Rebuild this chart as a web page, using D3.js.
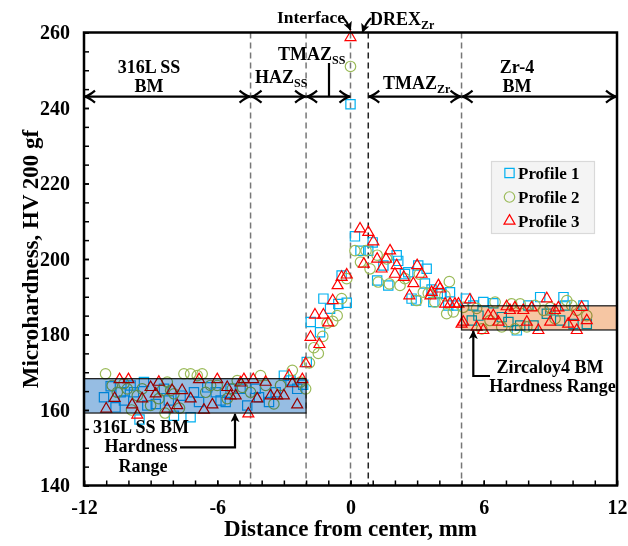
<!DOCTYPE html>
<html><head><meta charset="utf-8">
<script src="https://cdn.jsdelivr.net/npm/d3@7"></script>
<style>
body{margin:0;background:#fff}
svg text{font-family:"Liberation Serif","Times New Roman",serif;font-weight:bold;fill:#000}
</style>
</head><body>
<svg id="c" width="628" height="546"></svg>
<script>
// ---- data (distance mm, hardness HV) ----
const profile1 = [
[-11.1,163.4],[-10.8,166.3],[-10.58,160.7],[-10.35,164.7],[-10.2,162.5],[-9.9,166.5],[-9.75,164.7],[-9.5,157.5],[-9.3,167.4],[-9.15,161.2],
[-8.77,161.6],[-8.4,165.6],[-8.18,162.5],[-7.95,158.5],[-7.65,163.8],[-7.2,158.1],[-7.05,164.7],[-6.82,162.1],[-6.45,166.0],[-6.07,164.7],
[-5.85,162.5],[-5.62,162.1],[-5.4,165.6],[-4.95,165.6],[-4.65,161.2],[-4.27,165.6],[-4.12,163.4],[-3.67,162.1],[-3.37,164.7],[-3.0,169.1],
[-2.7,167.8],[-2.4,165.6],[-2.13,166.7],[-1.97,172.7],[-1.79,183.3],[-1.37,180.6],[-1.22,189.5],[-0.92,186.8],[-0.55,188.1],[-0.4,195.6],
[-0.17,188.4],[0.0,241.0],[0.2,206.0],[0.45,202.2],[0.8,202.2],[1.0,204.4],[1.2,194.3],[1.48,198.3],[1.7,193.0],[2.08,201.0],
[2.15,199.5],[2.45,196.0],[2.6,196.5],[2.75,189.5],[2.95,189.0],[3.05,198.3],[3.35,193.5],[3.43,197.4],[3.65,191.9],[3.73,188.6],
[3.93,191.0],[4.1,190.8],[4.4,187.7],[4.48,191.2],[4.75,187.7],[5.2,189.5],[5.46,183.7],[5.53,187.7],[5.76,185.0],[5.98,188.6],
[6.43,188.3],[6.81,184.6],[7.11,183.3],[7.49,181.1],[7.64,182.4],[8.01,187.7],[8.24,182.4],[8.54,189.9],[8.84,185.5],[9.0,186.4],
[9.44,183.7],[9.59,189.9],[9.67,187.7],[10.04,182.8],[10.49,187.7],[10.64,182.8]
];
const profile2 = [
[-11.03,169.6],[-10.73,166.5],[-10.5,164.7],[-10.2,167.0],[-10.05,165.6],[-9.86,160.0],[-9.6,163.8],[-9.38,165.6],[-9.0,161.2],[-8.63,163.0],
[-8.48,165.2],[-8.35,159.2],[-8.25,167.4],[-8.1,165.2],[-7.95,164.3],[-7.7,160.5],[-7.5,169.6],[-7.2,169.6],[-6.9,169.1],[-6.68,169.6],
[-6.52,164.7],[-6.3,166.5],[-6.0,166.5],[-5.55,163.0],[-5.32,165.6],[-5.1,167.8],[-4.87,166.0],[-4.5,164.7],[-4.05,169.1],[-3.82,166.5],
[-3.45,161.6],[-3.15,166.5],[-2.62,170.5],[-2.25,167.4],[-2.02,165.6],[-1.85,172.5],[-1.65,176.5],[-1.45,175.0],[-1.25,179.5],[-1.05,183.0],
[-0.8,183.5],[-0.6,185.0],[-0.4,189.5],[-0.17,194.8],[0.0,251.0],[0.2,202.2],[0.45,199.2],[0.7,202.2],[0.88,197.4],[1.2,201.0],
[1.25,193.9],[1.63,200.0],[1.75,193.4],[2.23,193.0],[2.45,194.8],[2.98,189.0],[3.1,196.0],[3.28,191.2],[3.5,190.9],[3.8,188.6],
[4.25,190.3],[4.33,185.5],[4.45,194.0],[4.63,186.0],[5.08,187.2],[5.68,186.9],[5.91,181.5],[6.28,183.7],[6.51,188.6],[6.81,182.0],
[7.26,188.1],[7.41,181.5],[7.64,188.1],[7.94,182.0],[8.31,187.7],[8.69,186.4],[8.99,187.1],[9.21,184.2],[9.74,189.0],[9.96,187.7],
[10.19,186.4],[10.64,185.0]
];
const profile3 = [
[-11.0,160.3],[-10.62,163.1],[-10.4,168.1],[-10.0,168.1],[-9.83,161.4],[-9.6,158.7],[-9.38,163.0],[-9.0,166.0],[-8.77,164.3],[-8.63,167.4],
[-8.25,160.3],[-8.03,165.2],[-7.8,161.2],[-7.58,165.2],[-7.2,163.0],[-6.82,168.1],[-6.6,160.0],[-6.22,161.4],[-6.0,168.1],[-5.55,166.0],
[-5.4,163.8],[-5.17,163.8],[-4.95,167.2],[-4.8,168.1],[-4.6,159.0],[-4.38,168.1],[-4.2,163.0],[-3.82,167.4],[-3.6,163.8],[-3.3,163.8],
[-3.0,163.8],[-2.77,169.1],[-2.62,167.0],[-2.4,161.4],[-2.17,168.1],[-2.02,172.3],[-1.8,179.3],[-1.6,185.2],[-1.4,177.4],[-1.22,185.2],
[-1.0,183.1],[-0.8,189.0],[-0.58,193.0],[-0.4,195.2],[-0.17,195.8],[0.0,258.7],[0.43,208.0],[0.6,198.7],[0.8,207.1],[1.03,204.6],
[1.2,200.0],[1.4,197.4],[1.6,200.0],[1.78,202.2],[2.0,196.0],[2.08,198.3],[2.4,195.2],[2.65,190.3],[2.83,193.5],[3.0,198.3],
[3.2,196.0],[3.6,190.3],[3.65,191.2],[3.96,193.0],[4.03,192.1],[4.26,188.1],[4.48,188.1],[4.7,188.1],[4.86,188.1],[5.0,182.8],
[5.08,183.3],[5.38,189.2],[5.68,182.0],[5.98,181.1],[6.2,185.0],[6.43,185.0],[6.66,183.3],[7.03,187.4],[7.18,186.4],[7.4,187.1],
[7.78,186.4],[7.94,183.3],[8.16,187.1],[8.46,181.1],[8.84,189.5],[8.99,183.3],[9.2,186.4],[9.36,187.1],[9.8,182.8],[10.04,184.6],
[10.19,181.1],[10.41,187.2],[10.64,183.7]
];
const seriesNames = ["Profile 1","Profile 2","Profile 3"];
const xTicks = [-12,-6,0,6,12];
const xMinorTicks = [-12,-11,-10,-9,-8,-7,-6,-5,-4,-3,-2,-1,0,1,2,3,4,5,6,7,8,9,10,11,12];
const yTicks = [140,160,180,200,220,240,260];
const yMinorTicks = [140,145,150,155,160,165,170,175,180,185,190,195,200,205,210,215,220,225,230,235,240,245,250,255,260];
const zoneLines = [-4.5,-2,0,0.8,5];
const zoneArrows = [[-12,-4.5],[-4.5,-2],[-2,0],[0.8,5],[5,12]];
const zoneArrowLevel = 243;
const ssBand = {x0:-12,x1:-2,lo:159.2,hi:168.3};
const zrBand = {x0:5,x1:12,lo:181.2,hi:187.6};

// ---- drawing ----
const W=628,H=546;
const m={l:84,r:617,t:32.5,b:485.5};
const x=d3.scaleLinear().domain([-12,12]).range([m.l,m.r]);
const y=d3.scaleLinear().domain([140,260]).range([m.b,m.t]);
const svg=d3.select("#c");
svg.append("rect").attr("width",W).attr("height",H).attr("fill","#fff");

const defs=svg.append("defs");
defs.append("marker").attr("id","ah").attr("viewBox","0 0 10 10").attr("refX",9).attr("refY",5)
  .attr("markerWidth",9).attr("markerHeight",9).attr("markerUnits","userSpaceOnUse").attr("orient","auto")
  .append("path").attr("d","M0,0 L10,5 L0,10 L2.5,5 Z").attr("fill","#000");

// zone dashed lines
svg.append("g").selectAll("line").data(zoneLines).join("line")
  .attr("x1",d=>x(d)).attr("x2",d=>x(d)).attr("y1",m.t).attr("y2",m.b)
  .attr("stroke",d=>d===0.8?"#222":"#777").attr("stroke-width",1.5).attr("stroke-dasharray","6,4");

// points
const colors=["#00b0f0","#9bbb59","#ff0000"];
const symbols=[d3.symbolSquare,d3.symbolCircle,d3.symbolTriangle];
const sizes=[86,86,52];
[profile1,profile2,profile3].forEach((data,i)=>{
  const gen=d3.symbol().type(symbols[i]).size(sizes[i]);
  svg.append("g").selectAll("path").data(data).join("path")
    .attr("d",gen).attr("transform",d=>`translate(${x(d[0])},${y(d[1])})`)
    .attr("fill","none").attr("stroke",colors[i]).attr("stroke-width",1.2);
});

// bands (multiply so points show through)
[[ssBand,"#96bde3"],[zrBand,"#f6c6a3"]].forEach(([b,c])=>{
  svg.append("rect").attr("x",x(b.x0)).attr("y",y(b.hi)).attr("width",x(b.x1)-x(b.x0)).attr("height",y(b.lo)-y(b.hi))
    .attr("fill",c).attr("stroke","#222").attr("stroke-width",1.3).style("mix-blend-mode","multiply");
});

// axes
const fs=20;
const fmt=d=>String(d);
const gy1=svg.append("g").attr("transform",`translate(${m.l},0)`)
  .call(d3.axisLeft(y).tickValues(yMinorTicks).tickSize(-5).tickFormat(""));
const gy2=svg.append("g").attr("transform",`translate(${m.l},0)`)
  .call(d3.axisLeft(y).tickValues(yTicks).tickSize(-5).tickPadding(14).tickFormat(fmt));
const gx1=svg.append("g").attr("transform",`translate(0,${m.b})`)
  .call(d3.axisBottom(x).tickValues(xMinorTicks).tickSize(-5).tickFormat(""));
const gx2=svg.append("g").attr("transform",`translate(0,${m.b})`)
  .call(d3.axisBottom(x).tickValues(xTicks).tickSize(-5).tickPadding(14).tickFormat(fmt));
[gy1,gy2,gx1,gx2].forEach(g=>{
  g.select(".domain").remove();
  g.selectAll("line").attr("stroke","#000").attr("stroke-width",1.5);
  g.selectAll("text").attr("font-size",fs).style("font-family",'"Liberation Serif",serif').style("font-weight","bold");
});

// frame
svg.append("rect").attr("x",m.l).attr("y",m.t).attr("width",m.r-m.l).attr("height",m.b-m.t)
  .attr("fill","none").attr("stroke","#000").attr("stroke-width",2.5);

// axis titles
svg.append("text").attr("x",(m.l+m.r)/2).attr("y",536).attr("text-anchor","middle").attr("font-size",23)
  .text("Distance from center, mm");
svg.append("text").attr("transform",`translate(38,${(m.t+m.b)/2}) rotate(-90)`).attr("text-anchor","middle").attr("font-size",23)
  .text("Microhardness, HV 200 gf");

// zone arrows
const ya=y(zoneArrowLevel);
const ag=svg.append("g").attr("stroke","#000").attr("fill","none").attr("stroke-width",2.2);
zoneArrows.forEach(([a,b])=>{
  const x0=x(a),x1=x(b);
  ag.append("line").attr("x1",x0).attr("x2",x1).attr("y1",ya).attr("y2",ya);
  ag.append("path").attr("d",`M${x0+11},${ya-6} Q${x0+5},${ya-1} ${x0+1},${ya} Q${x0+5},${ya+1} ${x0+11},${ya+6}`);
  ag.append("path").attr("d",`M${x1-11},${ya-6} Q${x1-5},${ya-1} ${x1-1},${ya} Q${x1-5},${ya+1} ${x1-11},${ya+6}`);
});
// TMAZ_SS pointer line
ag.append("line").attr("x1",329).attr("x2",329).attr("y1",63).attr("y2",ya);

// labels
function lab(txt,sub,xx,yy,anchor,size){
  const t=svg.append("text").attr("x",xx).attr("y",yy).attr("text-anchor",anchor||"start").attr("font-size",size||18);
  t.append("tspan").text(txt);
  if(sub) t.append("tspan").attr("font-size",12).attr("dy",4).text(sub);
  return t;
}
lab("316L SS",null,149,72.7,"middle");
lab("BM",null,149,91.7,"middle");
lab("HAZ","SS",255,83.3);
lab("TMAZ","SS",278,60);
lab("Interface",null,277,22.7,"start",17.5);
lab("DREX","Zr",370,25);
lab("TMAZ","Zr",383,89.3);
lab("Zr-4",null,517,72.7,"middle");
lab("BM",null,517,91.7,"middle");
lab("316L SS BM",null,141,432.7,"middle");
lab("Hardness",null,141,451.7,"middle");
lab("Range",null,143,471.7,"middle");
lab("Zircaloy4 BM",null,550,372.7,"middle");
lab("Hardness Range",null,552.5,391.7,"middle");

// small pointer arrows
const pg=svg.append("g").attr("stroke","#000").attr("fill","none").attr("stroke-width",2.2);
pg.append("path").attr("d","M342,17 Q347,21 350.5,30").attr("marker-end","url(#ah)");
pg.append("path").attr("d","M371,18 Q366,23 362.5,32").attr("marker-end","url(#ah)");
pg.append("path").attr("d",`M180,447.3 L235,447.3 L235,${y(ssBand.lo)+1}`).attr("marker-end","url(#ah)");
pg.append("path").attr("d",`M490,376 L473.3,376 L473.3,${y(zrBand.lo)+1}`).attr("marker-end","url(#ah)");

// legend
const lg=svg.append("g");
lg.append("rect").attr("x",491.5).attr("y",161.5).attr("width",103).attr("height",72).attr("fill","#f4f4f4").attr("stroke","#d9d9d9").attr("stroke-width",1.2);
seriesNames.forEach((n,i)=>{
  const cy=173+i*24;
  lg.append("path").attr("d",d3.symbol().type(symbols[i]).size(sizes[i])()).attr("transform",`translate(509.5,${cy})`)
    .attr("fill","none").attr("stroke",colors[i]).attr("stroke-width",1.2);
  lg.append("text").attr("x",518).attr("y",cy+5.5).attr("font-size",17).text(n);
});
</script>
</body></html>
